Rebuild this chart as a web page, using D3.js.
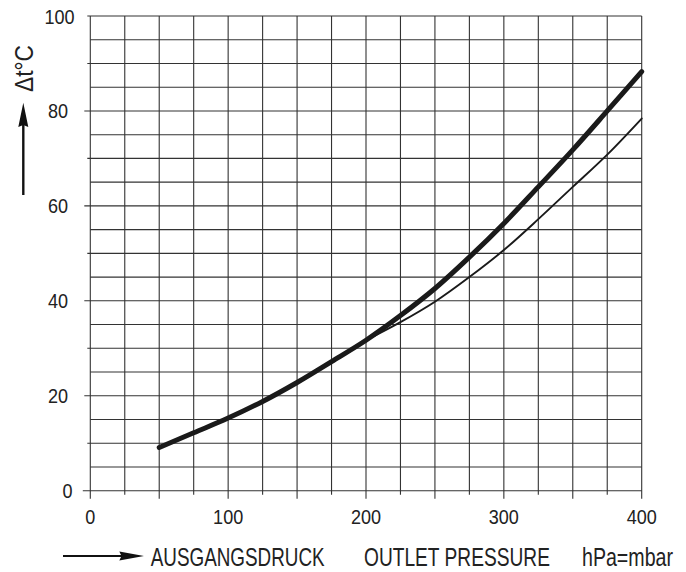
<!DOCTYPE html>
<html>
<head>
<meta charset="utf-8">
<script src="https://cdn.jsdelivr.net/npm/d3@7"></script>
<style>
  html, body { margin: 0; padding: 0; background: #fff; }
  svg { display: block; }
  text { font-family: "Liberation Sans", Arial, Helvetica, sans-serif; fill: #222; }
</style>
</head>
<body>
<div id="chart"></div>
<script>
// ---- data ----
const xTickValues = [0, 100, 200, 300, 400];
const yTickValues = [0, 20, 40, 60, 80, 100];
const pressureThick = [50, 75, 100, 125, 150, 175, 200, 225, 250, 275, 300, 325, 350, 375, 400];
const deltaThick    = [9.1, 12.2, 15.3, 18.8, 22.8, 27.2, 31.7, 36.9, 42.6, 49.2, 56.3, 64.0, 71.8, 80.0, 88.3];
const pressureThin  = [200, 225, 250, 275, 300, 325, 350, 375, 400];
const deltaThin     = [31.7, 35.5, 39.8, 45.0, 50.7, 57.2, 64.0, 70.8, 78.4];
const yTitle = "Δt°C";
const xTitleDe = "AUSGANGSDRUCK";
const xTitleEn = "OUTLET PRESSURE";
const xUnit = "hPa=mbar";

// ---- layout ----
const W = 686, H = 572;
const plotLeft = 90.3, plotRight = 641.7, plotTop = 16, plotBottom = 490.7;

const svg = d3.select("#chart").append("svg").attr("width", W).attr("height", H);

const x = d3.scaleLinear().domain([0, 400]).range([plotLeft, plotRight]);
const y = d3.scaleLinear().domain([0, 100]).range([plotBottom, plotTop]);

const gridColor = "#333";

// vertical grid lines every 25
const xGrid = d3.range(0, 401, 25);
svg.append("g").selectAll("line").data(xGrid).join("line")
  .attr("x1", d => x(d)).attr("x2", d => x(d))
  .attr("y1", plotTop)
  .attr("y2", d => plotBottom + (d % 50 === 0 ? 8 : 4))
  .attr("stroke", gridColor).attr("stroke-width", 1.1);

// horizontal grid lines every 5
const yGrid = d3.range(0, 101, 5);
svg.append("g").selectAll("line").data(yGrid).join("line")
  .attr("y1", d => y(d)).attr("y2", d => y(d))
  .attr("x1", d => plotLeft - (d === 0 ? 7.5 : (d % 20 === 0 && d !== 100) ? 6 : (d % 10 === 0 ? 3 : 0)))
  .attr("x2", plotRight)
  .attr("stroke", gridColor).attr("stroke-width", 1.1);

// tick labels
const sx = 0.86;
svg.append("g").selectAll("text").data(xTickValues).join("text")
  .attr("transform", d => `translate(${x(d)},524) scale(${sx},1)`)
  .attr("text-anchor", "middle")
  .attr("font-size", 21)
  .text(d => d);

svg.append("g").selectAll("text").data(yTickValues).join("text")
  .attr("transform", d => `translate(${d === 0 ? 67.5 : (d === 100 ? 59.5 : 58)},${y(d) + 7.5}) scale(${sx},1)`)
  .attr("text-anchor", "middle")
  .attr("font-size", 21)
  .text(d => d);

// curves
const line = d3.line().x(d => x(d[0])).y(d => y(d[1])).curve(d3.curveCatmullRom.alpha(0.5));

svg.append("path")
  .attr("d", line(pressureThin.map((p, i) => [p, deltaThin[i]])))
  .attr("fill", "none").attr("stroke", "#1a1a1a").attr("stroke-width", 1.9)
  .attr("stroke-linecap", "round");

svg.append("path")
  .attr("d", line(pressureThick.map((p, i) => [p, deltaThick[i]])))
  .attr("fill", "none").attr("stroke", "#1a1a1a").attr("stroke-width", 5)
  .attr("stroke-linecap", "round").attr("stroke-linejoin", "round");

// helper: horizontally condensed text fitted to a measured width
function fitText(sel, str, size, w) {
  const t = sel.append("text").attr("font-size", size).text(str);
  const len = t.node().getComputedTextLength();
  return { node: t, k: w / len };
}

// y title with arrow
{
  const f = fitText(svg, yTitle, 25, 47);
  f.node.attr("text-anchor", "middle")
    .attr("transform", `translate(33,68.5) rotate(-90) scale(${f.k},1)`);
}

svg.append("line")
  .attr("x1", 23.3).attr("x2", 23.3).attr("y1", 195).attr("y2", 124)
  .attr("stroke", "#111").attr("stroke-width", 2.4);
svg.append("path")
  .attr("d", "M23.3,102.7 L18.3,127 L23.3,125 L28.3,127 Z")
  .attr("fill", "#111");

// x title with arrow
svg.append("line")
  .attr("x1", 63).attr("x2", 122).attr("y1", 556).attr("y2", 556)
  .attr("stroke", "#111").attr("stroke-width", 2.2);
svg.append("path")
  .attr("d", "M144,556 L119.3,551.6 L121.5,556 L119.3,560.4 Z")
  .attr("fill", "#111");

const titles = [
  { t: xTitleDe, x0: 150.7, w: 174 },
  { t: xTitleEn, x0: 364, w: 186 },
  { t: xUnit, x0: 582, w: 91 }
];
const tg = svg.append("g");
titles.forEach(d => {
  const f = fitText(tg, d.t, 26, d.w);
  f.node.attr("transform", `translate(${d.x0},565.5) scale(${f.k},1)`);
});
</script>
</body>
</html>
